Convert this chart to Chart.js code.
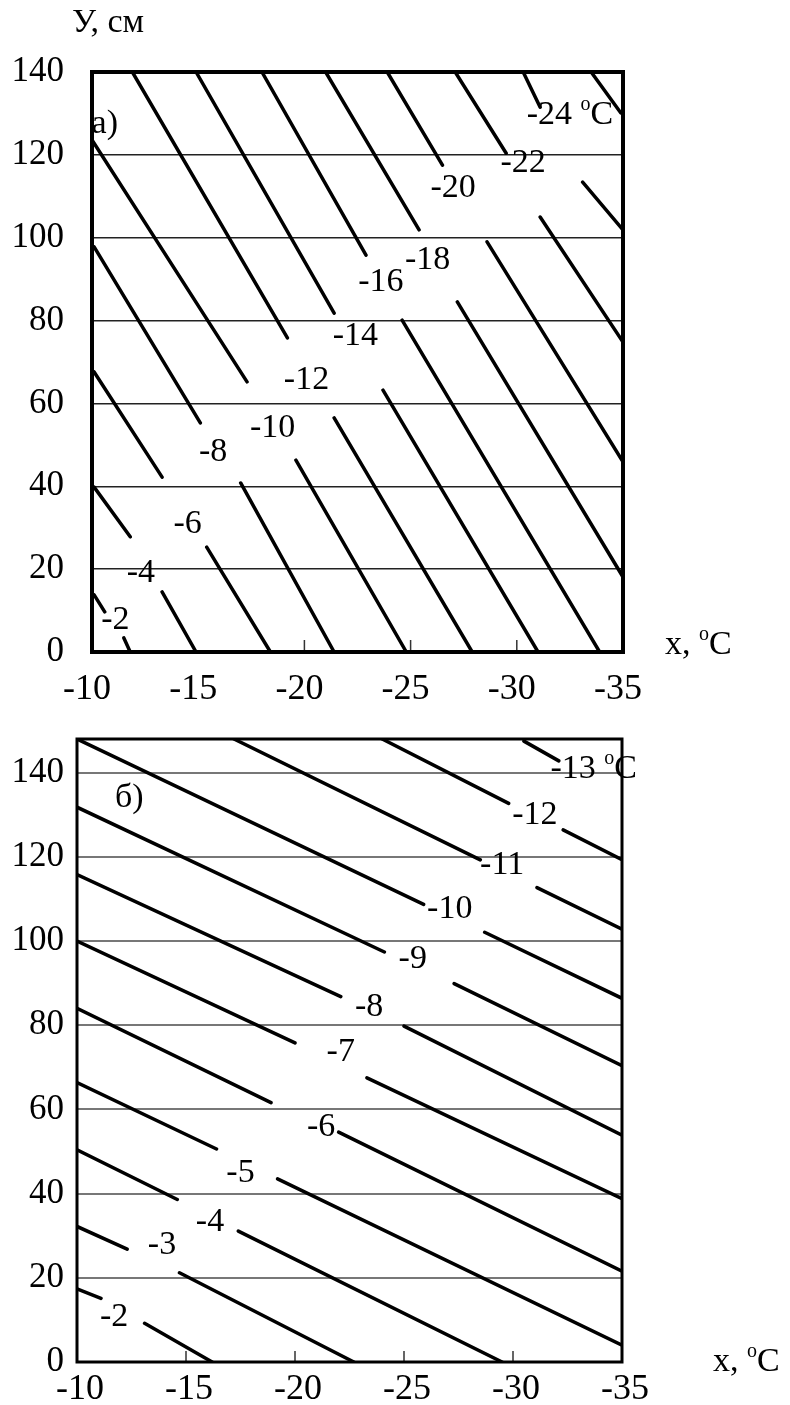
<!DOCTYPE html>
<html>
<head>
<meta charset="utf-8">
<script src="https://cdn.jsdelivr.net/npm/chart.js@4.4.0/dist/chart.umd.min.js"></script>
<style>
  html, body { margin: 0; padding: 0; background: #fff; }
  #boxA { position: absolute; left: 0; top: 0; width: 790px; height: 705px; }
  #boxB { position: absolute; left: 0; top: 705px; width: 790px; height: 700px; }
</style>
</head>
<body>
<div id="boxA"><canvas id="chartA" width="790" height="705"></canvas></div>
<div id="boxB"><canvas id="chartB" width="790" height="700"></canvas></div>
<script>
// ---------- data: panel а) ----------
// isotherm pieces, start / end points (x = air temp, y = depth)
const aStartX = [-10.1, -10.1, -10.1, -10.1, -10.0, -11.9, -14.9, -18.0, -21.0, -23.9, -27.1, -30.3, -33.5,
                 -11.5, -13.3, -15.4, -17.0, -19.6, -21.4, -23.7, -24.6, -27.2, -28.6, -31.1, -33.1];
const aStartY = [13.8, 39.8, 67.6, 97.8, 123.6, 140, 140, 140, 140, 140, 140, 140, 140,
                 3.4, 14.5, 25.3, 40.8, 46.3, 56.5, 63.2, 80.1, 84.5, 99.0, 105.0, 113.4];
const aEndX   = [-10.6, -11.8, -13.3, -15.1, -17.3, -19.2, -21.4, -22.9, -25.4, -26.5, -29.5, -31.1, -34.9,
                 -11.8, -14.9, -18.4, -21.4, -24.8, -27.9, -31.0, -33.9, -35, -35, -35, -35];
const aEndY   = [9.7, 27.8, 42.2, 55.3, 65.2, 75.8, 81.8, 95.8, 101.9, 117.5, 120.4, 131.5, 130.1,
                 0, 0, 0, 0, 0, 0, 0, 0, 18.1, 45.9, 74.8, 101.9];
const aLabelText = ['-2', '-4', '-6', '-8', '-10', '-12', '-14', '-16', '-18', '-20', '-22', '-24 °C'];
const aLabelX = [-11.1, -12.3, -14.5, -15.7, -18.5, -20.1, -22.4, -23.6, -25.8, -27.0, -30.3, -32.5];
const aLabelY = [7.7, 19.1, 30.9, 48.3, 54.1, 65.7, 76.3, 89.3, 94.6, 112.0, 118.0, 129.6];

// ---------- data: panel б) ----------
const bStartX = [-10, -10, -10, -10, -10, -10, -10, -10, -10, -17.2, -24.0, -30.5,
                 -13.1, -14.7, -17.4, -19.2, -22.0, -23.3, -25.0, -27.3, -28.7, -31.1, -32.3];
const bStartY = [17.4, 32.2, 50.4, 66.4, 84.0, 100.0, 115.8, 131.8, 148, 148, 148, 147.5,
                 9.2, 21.2, 31.1, 43.5, 54.6, 67.5, 79.8, 89.9, 102.1, 112.7, 126.4];
const bEndX   = [-11.1, -12.3, -14.6, -16.4, -18.9, -20.0, -22.1, -24.1, -25.9, -28.5, -29.8, -32.1,
                 -16.2, -22.7, -29.5, -35, -35, -35, -35, -35, -35, -35, -35];
const bEndY   = [15.1, 26.8, 38.6, 50.6, 61.6, 75.8, 86.8, 97.4, 108.7, 119.3, 132.7, 142.8,
                 0, 0, 0, 4.0, 21.6, 38.8, 53.9, 70.4, 86.4, 102.8, 119.3];
const bLabelText = ['-2', '-3', '-4', '-5', '-6', '-7', '-8', '-9', '-10', '-11', '-12', '-13 °C'];
const bLabelX = [-11.7, -13.9, -16.1, -17.5, -21.2, -22.1, -23.4, -25.4, -27.1, -29.5, -31.0, -33.7];
const bLabelY = [10.6, 27.8, 33.2, 44.9, 55.8, 73.6, 84.2, 95.8, 107.5, 118.1, 129.9, 140.9];

// shared axis ticks
const xTicks = [-10, -15, -20, -25, -30, -35];
const yTicks = [0, 20, 40, 60, 80, 100, 120, 140];

const SERIF = '"Liberation Serif", "Times New Roman", serif';

// text with a raised small "o" in place of the degree sign
function drawRich(ctx, text, x, y, size, align) {
  const i = text.indexOf('°');
  const main = i < 0 ? text : text.slice(0, i);
  const rest = i < 0 ? '' : text.slice(i + 1);
  const big = size + 'px ' + SERIF;
  const small = Math.round(size * 0.6) + 'px ' + SERIF;
  ctx.font = big;
  const w1 = ctx.measureText(main).width;
  const w3 = ctx.measureText(rest).width;
  ctx.font = small;
  const w2 = i < 0 ? 0 : ctx.measureText('o').width;
  const x0 = align === 'left' ? x : x - (w1 + w2 + w3) / 2;
  ctx.textAlign = 'left';
  ctx.textBaseline = 'middle';
  ctx.fillStyle = '#000';
  ctx.font = big;
  ctx.fillText(main, x0, y);
  if (i >= 0) {
    ctx.font = small;
    ctx.fillText('o', x0 + w1, y - size * 0.3);
    ctx.font = big;
    ctx.fillText(rest, x0 + w1 + w2, y);
  }
}

function segments(sx, sy, ex, ey, width) {
  return sx.map((x, i) => ({
    data: [{ x: x, y: sy[i] }, { x: ex[i], y: ey[i] }],
    showLine: true,
    borderColor: '#000',
    borderWidth: width,
    borderCapStyle: 'round',
    pointRadius: 0
  }));
}

// frame, inner ticks, isotherm labels and titles
const decor = {
  id: 'decor',
  afterDatasetsDraw(chart, args, o) {
    const ctx = chart.ctx;
    const { left, top, right, bottom } = chart.chartArea;
    const xs = chart.scales.x, ys = chart.scales.y;
    ctx.save();
    // inner tick marks on the bottom axis
    ctx.strokeStyle = '#333';
    ctx.lineWidth = 1.5;
    o.innerTicks.forEach(v => {
      const px = xs.getPixelForValue(v);
      ctx.beginPath();
      ctx.moveTo(px, bottom);
      ctx.lineTo(px, bottom - o.tickLen);
      ctx.stroke();
    });
    // frame
    ctx.strokeStyle = '#000';
    ctx.lineWidth = o.frameWidth;
    ctx.strokeRect(left, top, right - left, bottom - top);
    // isotherm labels
    o.labelText.forEach((t, i) => {
      drawRich(ctx, t, xs.getPixelForValue(o.labelX[i]), ys.getPixelForValue(o.labelY[i]), o.labelSize, 'center');
    });
    // panel letter
    drawRich(ctx, o.panel, xs.getPixelForValue(o.panelX), ys.getPixelForValue(o.panelY), o.labelSize, 'center');
    // x axis title
    drawRich(ctx, 'x, °C', o.xTitlePos[0], o.xTitlePos[1], 34, 'left');
    if (o.yTitle) drawRich(ctx, o.yTitle, 72, 23, 34, 'left');
    ctx.restore();
  }
};

function makeChart(id, cfg) {
  return new Chart(document.getElementById(id), {
    type: 'scatter',
    data: { datasets: segments(cfg.sx, cfg.sy, cfg.ex, cfg.ey, 3.5) },
    options: {
      responsive: false,
      animation: false,
      layout: { padding: cfg.padding },
      plugins: {
        legend: { display: false },
        tooltip: { enabled: false },
        decor: cfg.decor
      },
      scales: {
        x: {
          type: 'linear',
          min: -35, max: -10, reverse: true,
          afterFit: s => { s.height = cfg.xHeight; },
          afterBuildTicks: s => { s.ticks = xTicks.map(v => ({ value: v })); },
          border: { display: false },
          grid: { display: false, drawTicks: false },
          ticks: {
            padding: cfg.xPad,
            labelOffset: cfg.xLabelOffset,
            color: '#000',
            font: { family: SERIF, size: 36 },
            callback: v => String(v)
          }
        },
        y: {
          type: 'linear',
          min: 0, max: cfg.yMax,
          afterFit: s => { s.width = cfg.yWidth; },
          afterBuildTicks: s => { s.ticks = yTicks.map(v => ({ value: v })); },
          border: { display: false },
          grid: {
            drawTicks: false,
            color: c => (c.tick && c.tick.value > 0 && c.tick.value < cfg.yMax - 1) ? cfg.gridColor : 'rgba(0,0,0,0)',
            lineWidth: cfg.gridWidth
          },
          ticks: {
            padding: cfg.yPad,
            color: '#000',
            font: { family: SERIF, size: 35 },
            callback: v => String(v)
          }
        }
      }
    },
    plugins: [decor]
  });
}

makeChart('chartA', {
  sx: aStartX, sy: aStartY, ex: aEndX, ey: aEndY,
  padding: { top: 72, right: 167, left: 0, bottom: 0 },
  xHeight: 53, yWidth: 92, xPad: 16, yPad: 28, xLabelOffset: -5, yMax: 140,
  gridColor: '#222', gridWidth: 1.5,
  decor: {
    frameWidth: 4, innerTicks: [-20, -25, -30], tickLen: 12,
    labelText: aLabelText, labelX: aLabelX, labelY: aLabelY, labelSize: 34,
    panel: 'а)', panelX: -10.6, panelY: 127.4,
    xTitlePos: [665, 645], yTitle: 'У, см'
  }
});

makeChart('chartB', {
  sx: bStartX, sy: bStartY, ex: bEndX, ey: bEndY,
  padding: { top: 27, right: 168, left: 0, bottom: 0 },
  xHeight: 43, yWidth: 77, xPad: 6, yPad: 13, xLabelOffset: 3, yMax: 148,
  gridColor: '#777', gridWidth: 2,
  decor: {
    frameWidth: 3, innerTicks: [-15, -20, -25, -30], tickLen: 11,
    labelText: bLabelText, labelX: bLabelX, labelY: bLabelY, labelSize: 34,
    panel: 'б)', panelX: -12.4, panelY: 133.9,
    xTitlePos: [713, 657], yTitle: null
  }
});
</script>
</body>
</html>
